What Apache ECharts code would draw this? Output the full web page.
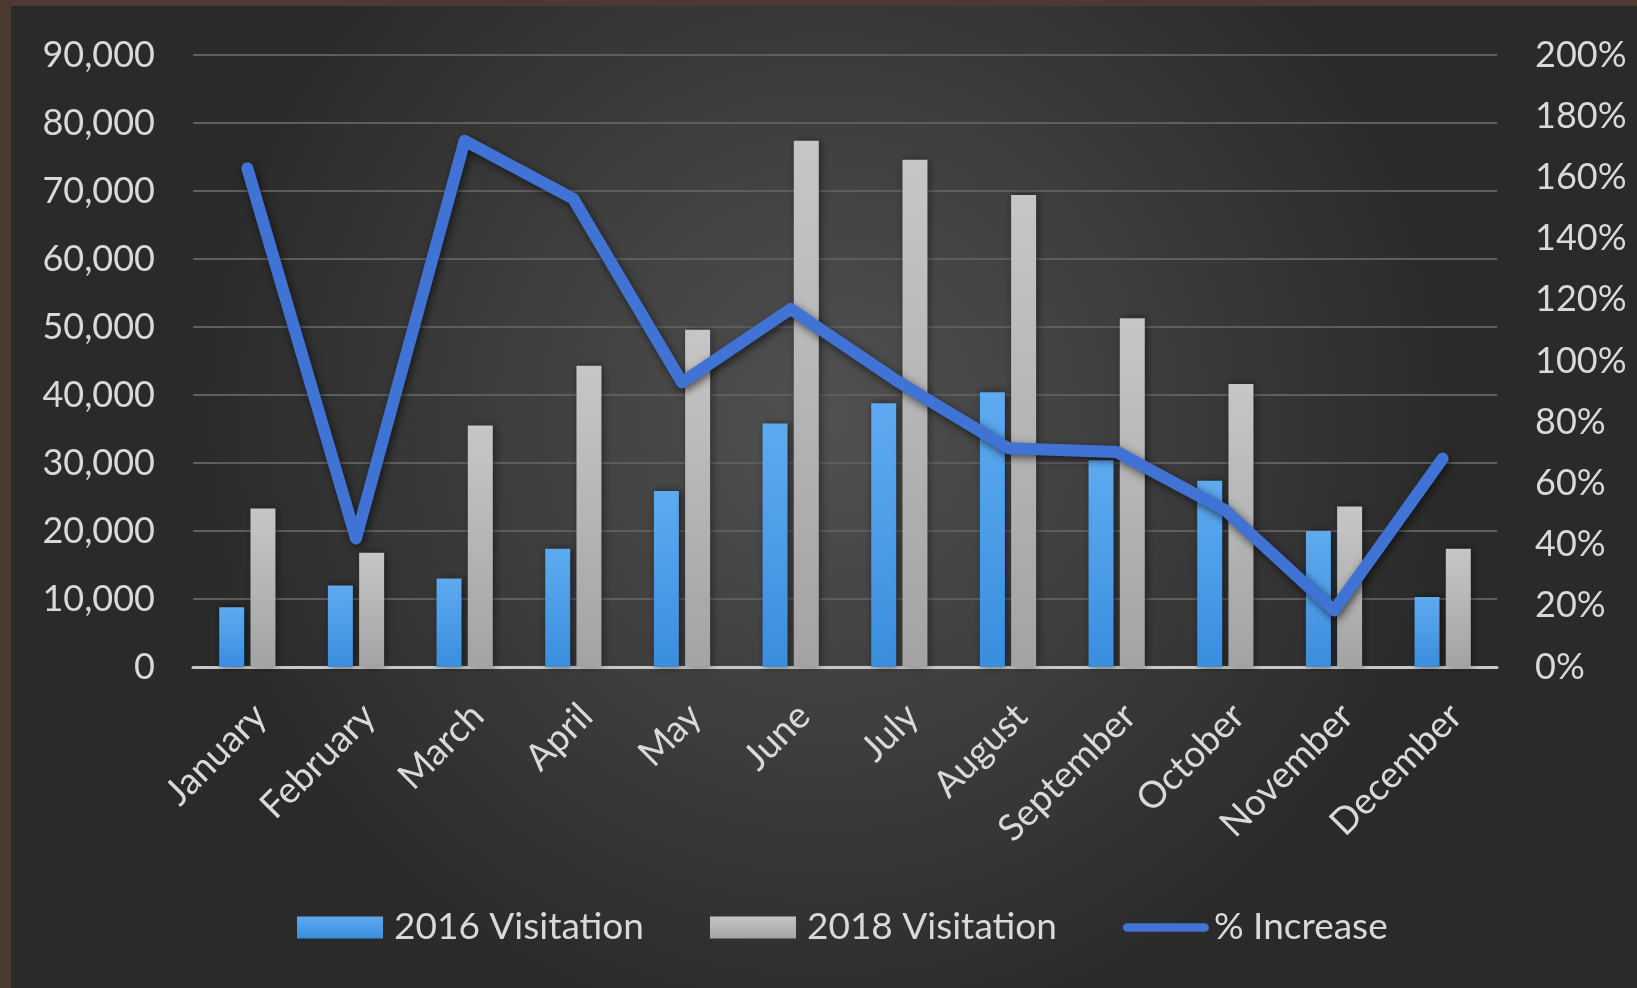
<!DOCTYPE html>
<html>
<head>
<meta charset="utf-8">
<script src="https://cdn.jsdelivr.net/npm/echarts@6/dist/echarts.min.js"></script>
<style>
  html, body { margin: 0; padding: 0; width: 1637px; height: 988px; background: #4a3a2f; overflow: hidden; }
  #chart { position: absolute; left: 11px; top: 6px; width: 1626px; height: 982px; }
</style>
</head>
<body>
<div id="chart"></div>
<script>
const months = ['January','February','March','April','May','June','July','August','September','October','November','December'];
const visits2016 = [8800, 12000, 13000, 17400, 25900, 35800, 38800, 40400, 30400, 27400, 20000, 10300];
const visits2018 = [23300, 16800, 35500, 44300, 49600, 77400, 74600, 69400, 51300, 41600, 23600, 17400];
const pctIncrease = [163, 42, 172, 153, 93, 117, 93, 71.5, 70.3, 51.2, 18.5, 68.1];
const leftTicks = { min: 0, max: 90000, interval: 10000 };
const rightTicks = { min: 0, max: 200, interval: 20 };

const chart = echarts.init(document.getElementById('chart'));
const font = 'Lato, "Open Sans", sans-serif';
const txt = '#d9d9d9';
const lineColor = '#4173d4';

chart.setOption({
  backgroundColor: new echarts.graphic.RadialGradient(0.5, 0.42, 0.65, [
    { offset: 0, color: '#515151' },
    { offset: 1, color: '#2a2a2a' }
  ]),
  animation: false,
  grid: { left: 182, right: 140, top: 49, bottom: 321 },
  legend: {
    bottom: 37,
    left: 281,
    itemWidth: 86,
    itemHeight: 22,
    itemGap: 66,
    textStyle: { color: txt, fontFamily: font, fontSize: 37, padding: [0, 0, 0, 6] },
    data: [
      { name: '2016 Visitation', icon: 'rect' },
      { name: '2018 Visitation', icon: 'rect' },
      { name: '% Increase', icon: 'path://M5,0 L95,0 A5,5 0 0 1 95,10 L5,10 A5,5 0 0 1 5,0 Z',
        itemStyle: { color: lineColor, borderWidth: 0 },
        textStyle: { padding: [0, 0, 0, 0] } }
    ]
  },
  xAxis: {
    type: 'category',
    data: months,
    axisLine: { lineStyle: { color: '#c8c8c8', width: 3 } },
    axisTick: { show: false },
    axisLabel: { rotate: 45, color: txt, fontFamily: font, fontSize: 37, margin: 30, verticalAlign: 'top', interval: 0 }
  },
  yAxis: [
    {
      type: 'value', min: leftTicks.min, max: leftTicks.max, interval: leftTicks.interval,
      axisLine: { show: false }, axisTick: { show: false },
      splitLine: { lineStyle: { color: '#5e5e5e', width: 2 } },
      axisLabel: { color: txt, fontFamily: font, fontSize: 36, margin: 38,
        formatter: v => v.toLocaleString('en-US') }
    },
    {
      type: 'value', min: rightTicks.min, max: rightTicks.max, interval: rightTicks.interval,
      axisLine: { show: false }, axisTick: { show: false }, splitLine: { show: false },
      axisLabel: { color: txt, fontFamily: font, fontSize: 36, margin: 38, formatter: '{value}%' }
    }
  ],
  series: [
    {
      name: '2016 Visitation', type: 'bar', data: visits2016, barWidth: 25, barGap: '25%',
      itemStyle: {
        color: new echarts.graphic.LinearGradient(0, 0, 0, 1, [
          { offset: 0, color: '#5eaaf0' }, { offset: 1, color: '#3a8ede' }
        ]),
        shadowColor: 'rgba(0,0,0,0.55)', shadowBlur: 8, shadowOffsetX: 2, shadowOffsetY: 0
      }
    },
    {
      name: '2018 Visitation', type: 'bar', data: visits2018, barWidth: 25,
      itemStyle: {
        color: new echarts.graphic.LinearGradient(0, 0, 0, 1, [
          { offset: 0, color: '#c6c6c6' }, { offset: 1, color: '#a3a3a3' }
        ]),
        shadowColor: 'rgba(0,0,0,0.45)', shadowBlur: 8, shadowOffsetX: 2, shadowOffsetY: 0
      }
    },
    {
      name: '% Increase', type: 'line', yAxisIndex: 1, data: pctIncrease,
      symbol: 'none', z: 5,
      lineStyle: { color: lineColor, width: 12, cap: 'round', join: 'round',
        shadowColor: 'rgba(0,0,0,0.6)', shadowBlur: 8, shadowOffsetX: 2, shadowOffsetY: 3 },
      itemStyle: { color: lineColor }
    }
  ]
});
</script>
</body>
</html>
